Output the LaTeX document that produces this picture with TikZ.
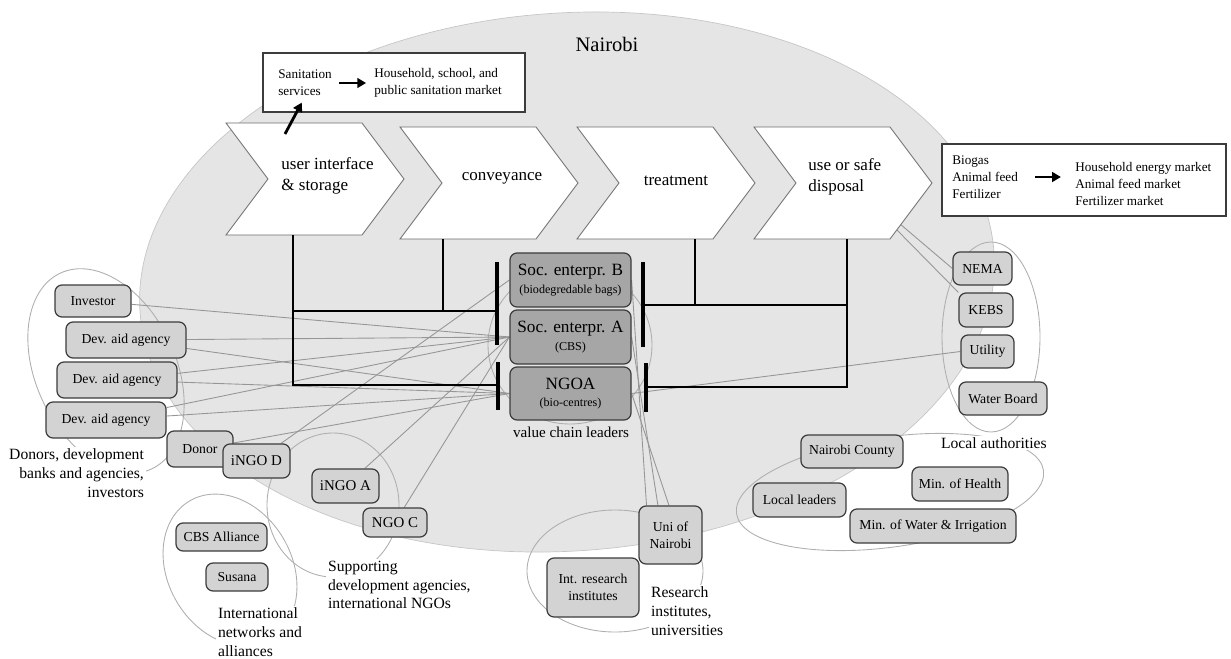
\documentclass[tikz,border=0pt]{standalone}
\usepackage{fontspec}
\setmainfont{Liberation Serif}
\usepackage{tikz}
\usetikzlibrary{arrows.meta}
\newcommand{\px}{0.2mm}
\newcommand{\chh}{56}
\newcommand{\chp}{42}
\definecolor{cityfill}{RGB}{229,229,229}
\definecolor{boxfill}{RGB}{211,211,211}
\definecolor{leadfill}{RGB}{166,166,166}
\definecolor{boxedge}{RGB}{60,60,60}
\definecolor{linkgrey}{RGB}{150,150,150}
\definecolor{ringgrey}{RGB}{175,175,175}
\definecolor{chevedge}{RGB}{110,110,110}
\pgfdeclarelayer{back}
\pgfdeclarelayer{links}
\pgfsetlayers{back,links,main}
\tikzstyle{actor}=[draw=boxedge, line width=0.7pt, fill=boxfill, rounded corners=4pt, align=center, inner sep=0pt, font=\fontsize{7.8}{9.8}\selectfont]
\tikzstyle{bigactor}=[actor, font=\fontsize{8.5}{10}\selectfont]
\tikzstyle{leader}=[actor, fill=leadfill, minimum width=121*\px, font=\fontsize{9.8}{11}\selectfont]
\tikzstyle{ring}=[draw=ringgrey, line width=0.5pt]
\tikzstyle{link}=[draw=linkgrey, line width=0.5pt]
\tikzstyle{tree}=[line width=1.2pt]
\tikzstyle{bar}=[line width=2pt]
\tikzstyle{chev}=[fill=white, draw=chevedge, line width=0.5pt]
\tikzstyle{chevtext}=[font=\fontsize{9.7}{12}\selectfont, align=left, inner sep=0pt]
\tikzstyle{grouplabel}=[font=\fontsize{8.9}{10.7}\selectfont, inner sep=1pt, fill=white]
\tikzstyle{market}=[draw=boxedge, line width=0.6pt, fill=white]
\tikzstyle{markettext}=[font=\fontsize{7.5}{9.8}\selectfont, align=left, inner sep=0pt]
\tikzstyle{bigarrow}=[line width=1.6pt, -{Triangle[length=5pt,width=5.5pt]}]

\begin{document}
\begin{tikzpicture}[x=\px, y=-\px]

\useasboundingbox (0,0) rectangle (1231,659);

\begin{pgfonlayer}{back}
\draw[fill=cityfill, draw=gray!45, line width=0.4pt, rotate around={4:(567,282)}] (567,282) ellipse [x radius=428*\px, y radius=269*\px];
\end{pgfonlayer}

\node[font=\fontsize{11.7}{14}\selectfont, inner sep=0pt] (city) at (607,44) {Nairobi};

% the four steps of the chain
\foreach \x/\y in {226/179,400/183,577/183,754/183}
\draw[chev] (\x,\y-\chh) -- ++(136,0) -- ++(\chp,\chh) -- ++(-\chp,\chh) -- ++(-136,0) -- ++(\chp,-\chh) -- cycle;

\node[chevtext, anchor=west] (ui) at (281,176) {user interface\\\& storage};
\node[chevtext] (conv) at (502,178) {conveyance};
\node[chevtext] (treat) at (676,181) {treatment};
\node[chevtext, anchor=west] (use) at (808,177) {use or safe\\disposal};

% markets
\node[market, minimum width=262*\px, minimum height=59*\px] (sanbox) at (394,82.5) {};
\node[markettext, anchor=west] (sanin) at (278,83) {Sanitation\\services};
\node[markettext, anchor=west] (sanout) at (374,83) {Household, school, and\\public sanitation market};
\draw[bigarrow, shorten <=4pt, shorten >=4.5pt] (sanin) -- (sanout);
\coordinate (uistub) at (285,134);
\draw[bigarrow, shorten >=4pt] (uistub) -- (sanin.south);

\node[market, minimum width=284*\px, minimum height=72*\px] (prodbox) at (1084,180) {};
\node[markettext, anchor=west] (prodin) at (952,177) {Biogas\\Animal feed\\Fertilizer};
\node[markettext, anchor=west] (prodout) at (1075,184) {Household energy market\\Animal feed market\\Fertilizer market};
\draw[bigarrow, shorten <=9.5pt, shorten >=8pt] (prodin.east) -- (prodin.east -| prodout.west);

% value chain leaders
\node[leader, minimum height=54*\px] (socB) at (570.5,280) {Soc. enterpr. B\\[-1pt]{\fontsize{6.9}{8}\selectfont (biodegredable bags)}};
\node[leader, minimum height=54*\px] (socA) at (570.5,337) {Soc. enterpr. A\\[-1pt]{\fontsize{6.9}{8}\selectfont (CBS)}};
\node[leader, minimum height=53*\px] (ngoa) at (570.5,393.5) {NGOA\\[-1pt]{\fontsize{6.9}{8}\selectfont (bio-centres)}};
\node[font=\fontsize{8.6}{10}\selectfont, inner sep=0pt] (vcl) at (571,432) {value chain leaders};

\coordinate (ch1b) at (293,235);
\coordinate (ch2b) at (443,239);
\coordinate (ch3b) at (695,239);
\coordinate (ch4b) at (847,239);
\coordinate (jl1) at (497,311);
\coordinate (jl2) at (498,385);
\coordinate (jr1) at (643,305);
\coordinate (jr2) at (646,387);

\draw[tree] (jl2) -| (ch1b);
\draw[tree] (jl1) -- (jl1 -| ch1b);
\draw[tree] (ch2b) -- (ch2b |- jl1);
\draw[tree] (jr2) -| (ch4b);
\draw[tree] (jr1) -- (jr1 -| ch4b);
\draw[tree] (ch3b) -- (ch3b |- jr1);
\foreach \x/\a/\b in {497/262/345, 498/362/410, 643/262/347, 646/363/412}
\draw[bar] (\x,\a) -- (\x,\b);

% stakeholders
\node[actor, minimum width=76*\px, minimum height=32*\px] (inv) at (93,301) {Investor};
\node[actor, minimum width=120*\px, minimum height=36*\px] (dev1) at (126,340) {Dev. aid agency};
\node[actor, minimum width=120*\px, minimum height=36*\px] (dev2) at (117,380) {Dev. aid agency};
\node[actor, minimum width=120*\px, minimum height=36*\px] (dev3) at (106,420) {Dev. aid agency};
\node[actor, minimum width=66*\px, minimum height=36*\px] (donor) at (200,449) {Donor};
\node[bigactor, minimum width=67*\px, minimum height=34*\px] (ingod) at (256.5,461) {iNGO D};
\node[bigactor, minimum width=67*\px, minimum height=34*\px] (ingoa) at (345.5,486) {iNGO A};
\node[bigactor, minimum width=64*\px, minimum height=29*\px] (ngoc) at (395,522.5) {NGO C};
\node[actor, minimum width=91*\px, minimum height=28*\px] (cbs) at (221.5,537) {CBS Alliance};
\node[actor, minimum width=62*\px, minimum height=28*\px] (susana) at (237,577) {Susana};
\node[actor, minimum width=63*\px, minimum height=58*\px] (uni) at (670.5,535) {Uni of\\Nairobi};
\node[actor, minimum width=92*\px, minimum height=59*\px] (intres) at (593,587.5) {Int. research\\institutes};
\node[actor, minimum width=59*\px, minimum height=33*\px] (nema) at (982.5,268.5) {NEMA};
\node[actor, minimum width=54*\px, minimum height=34*\px] (kebs) at (986,310) {KEBS};
\node[actor, minimum width=53*\px, minimum height=33*\px] (utility) at (987.5,351.5) {Utility};
\node[actor, minimum width=88*\px, minimum height=33*\px] (water) at (1003,398.5) {Water Board};
\node[actor, minimum width=102*\px, minimum height=33*\px] (county) at (852,451.5) {Nairobi County};
\node[actor, minimum width=93*\px, minimum height=34*\px] (leaders) at (799.5,500) {Local leaders};
\node[actor, minimum width=96*\px, minimum height=34*\px] (health) at (960,484) {Min. of Health};
\node[actor, minimum width=166*\px, minimum height=34*\px] (minwater) at (933,526) {Min. of Water \& Irrigation};

\node[grouplabel, align=right, anchor=east] (donlab) at (146,473) {Donors, development\\banks and agencies,\\investors};
\node[grouplabel, align=left, anchor=west] (netlab) at (216,632) {International\\networks and\\alliances};
\node[grouplabel, align=left, anchor=west] (suplab) at (326,585) {Supporting\\development agencies,\\international NGOs};
\node[grouplabel, align=left, anchor=west] (reslab) at (649,611) {Research\\institutes,\\universities};
\node[grouplabel, anchor=west] (loclab) at (939,443) {Local authorities};

\begin{pgfonlayer}{links}
\draw[ring, rotate around={-65:(106,371)}] (106,371) ellipse [x radius=108*\px, y radius=70*\px];
\draw[ring, rotate around={-60:(230,570)}] (230,570) ellipse [x radius=80*\px, y radius=62*\px];
\draw[ring] (333,505) ellipse [x radius=66*\px, y radius=72*\px];
\draw[ring] (615,571) ellipse [x radius=88*\px, y radius=61*\px];
\draw[ring] (991,337) ellipse [x radius=49*\px, y radius=95*\px];
\draw[ring, rotate around={8:(890,492)}] (890,492) ellipse [x radius=155*\px, y radius=55*\px];
\draw[ring] (570,345) ellipse [x radius=82*\px, y radius=79*\px];

\foreach \a/\b in {inv/socA, dev1/socA, dev1/ngoa, dev2/socA, dev2/ngoa, dev3/socA, dev3/ngoa, donor/ngoa, ingod/socB, ingoa/socA, ngoc/socA}
\draw[link] (\a) -- (\b.west);
\foreach \b/\t in {socB/129, socA/113, ngoa/93}
\draw[link] (\b.east) -- (uni.\t);
\draw[link] (utility.west) -- (ngoa.east);
\draw[link] (nema.west) -- (use);
\draw[link] (kebs.north west) -- (use);
\end{pgfonlayer}

\end{tikzpicture}
\end{document}
